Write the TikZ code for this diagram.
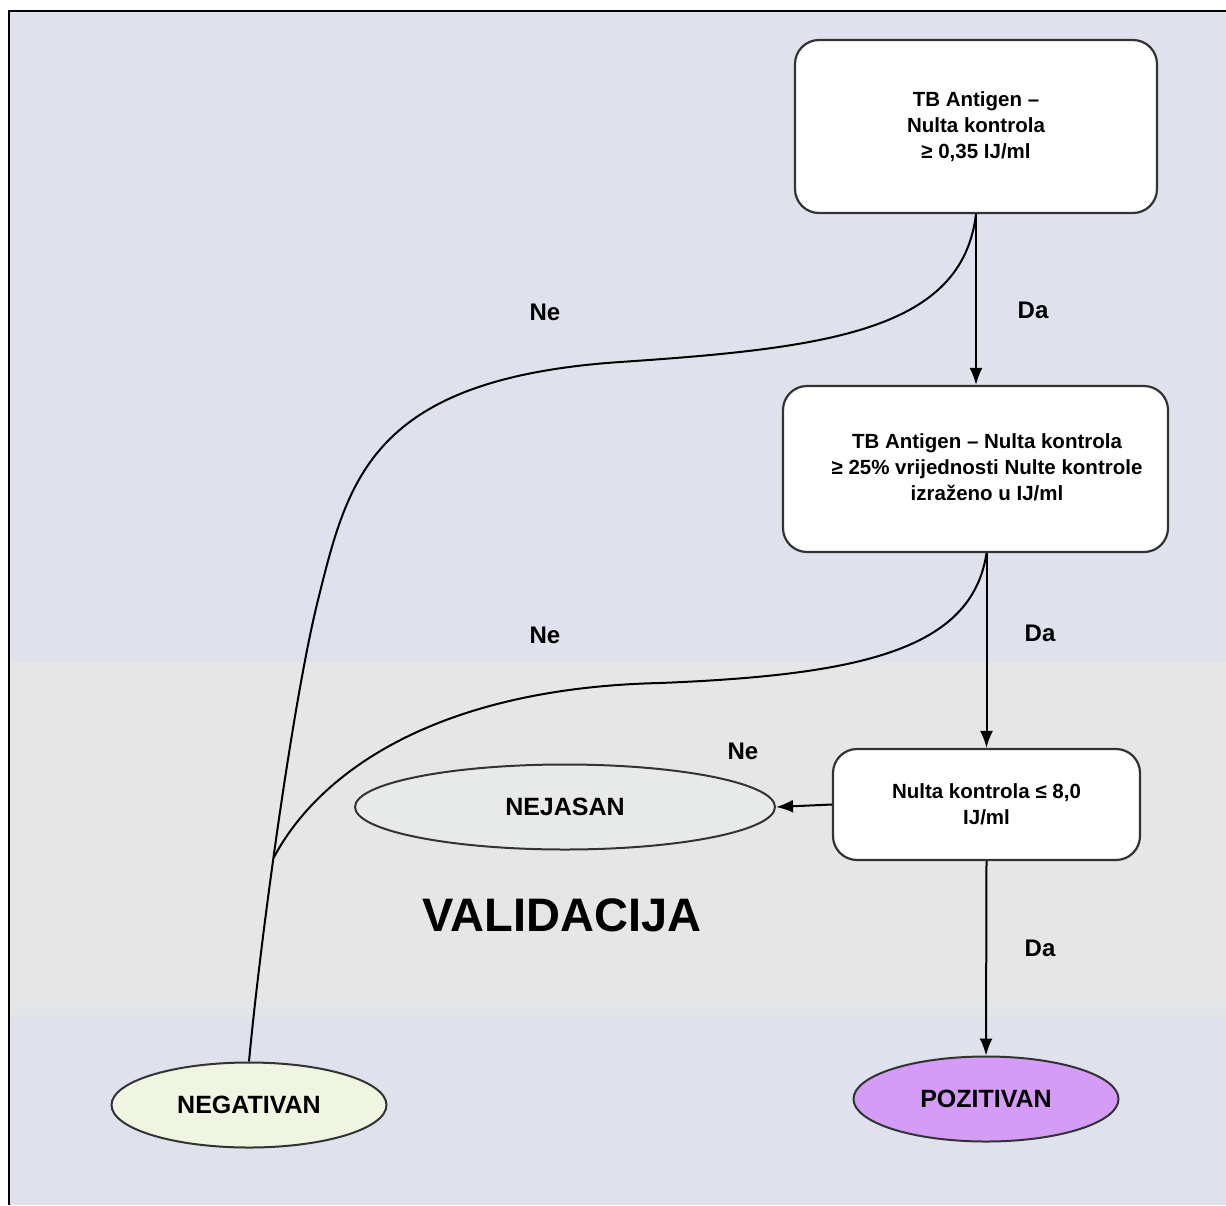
\documentclass[tikz,border=0pt]{standalone}
\usepackage{fontspec}
\setmainfont{Liberation Sans}
\usetikzlibrary{shapes.geometric,arrows.meta}
\definecolor{bgblue}{HTML}{DFE1EC}
\definecolor{bggray}{HTML}{E6E6E6}
\definecolor{bgmix}{HTML}{E1E5E8}
\definecolor{negfill}{HTML}{EFF5E1}
\definecolor{nejfill}{HTML}{E8EAEA}
\definecolor{pozfill}{HTML}{D49CF7}

\begin{document}
\begin{tikzpicture}[x=1pt,y=-1pt,
    box/.style={draw=black!80,line width=2.2pt,fill=white,rounded corners=24pt,
      align=center,inner sep=0pt,font=\fontsize{20.5}{26}\selectfont\bfseries},
    boxtext/.style={align=center,inner sep=0pt,font=\fontsize{20.5}{26}\selectfont\bfseries},
    result/.style={ellipse,draw=black!80,line width=2pt,inner sep=0pt,
      minimum height=85,font=\fontsize{25}{30}\selectfont\bfseries},
    answer/.style={font=\fontsize{24}{28}\selectfont\bfseries},
    flow/.style={line width=2pt,-{Latex[length=17pt,width=13pt]}},
    branch/.style={line width=2pt}]

  % Background
  \useasboundingbox (0,0) rectangle (1226,1205);
  \fill[white] (0,0) rectangle (1226,1205);
  \fill[bgblue] (9,11) rectangle (1226,1205);
  \fill[bggray] (9,662) rectangle (1226,1002);
  \fill[bgmix] (9,1002) rectangle (1226,1018);
  \draw[line width=2.4pt] (9,1205) -- (9,11) -- (1226,11);

  % Boxes
  \node[box,minimum width=362,minimum height=173] (cond1) at (976,126.5)
    {TB Antigen --\\Nulta kontrola\\≥ 0,35 IJ/ml};
  \node[box,minimum width=385,minimum height=166] (cond2) at (975.5,469) {};
  \node[boxtext] (cond2text) at (987,467)
    {TB Antigen -- Nulta kontrola\\≥ 25\% vrijednosti Nulte kontrole\\izraženo u IJ/ml};
  \node[box,minimum width=307,minimum height=111] (cond3) at (986.5,804.5)
    {Nulta kontrola ≤ 8,0\\IJ/ml};

  % Results
  \node[result,fill=nejfill,minimum width=420] (nejasan) at (565,807) {NEJASAN};
  \node[result,fill=negfill,minimum width=275] (neg) at (249,1105) {NEGATIVAN};
  \node[result,fill=pozfill,minimum width=265] (poz) at (986,1099) {POZITIVAN};

  \node[font=\fontsize{47}{50}\selectfont\bfseries] (valid) at (562,915) {VALIDACIJA};

  % Arrows
  \draw[flow] (cond1.south) -- (cond2.north -| cond1.south);
  \draw[flow] (cond3.north |- cond2.south) -- (cond3.north);
  \draw[flow] (cond3.south) -- (poz.north);
  \draw[flow] (cond3.west) -- (nejasan.east);

  % Ne branches
  \coordinate (merge) at (273.5,858);
  \draw[branch] (cond1.south) .. controls (962,330) and (830,348) .. (620,362)
    .. controls (370,379) and (348,480) .. (318,600)
    .. controls (293,700) and (260,943) .. (neg.north);
  \draw[branch] (cond3.north |- cond2.south) .. controls (972,650) and (860,675) .. (660,683)
    .. controls (440,688) and (320,770) .. (merge);

  % Labels
  \node[answer] (ne1) at (545,312) {Ne};
  \node[answer] (da1) at (1033,310) {Da};
  \node[answer] (ne2) at (545,635) {Ne};
  \node[answer] (da2) at (1040,633) {Da};
  \node[answer] (ne3) at (743,751) {Ne};
  \node[answer] (da3) at (1040,948) {Da};
\end{tikzpicture}
\end{document}
